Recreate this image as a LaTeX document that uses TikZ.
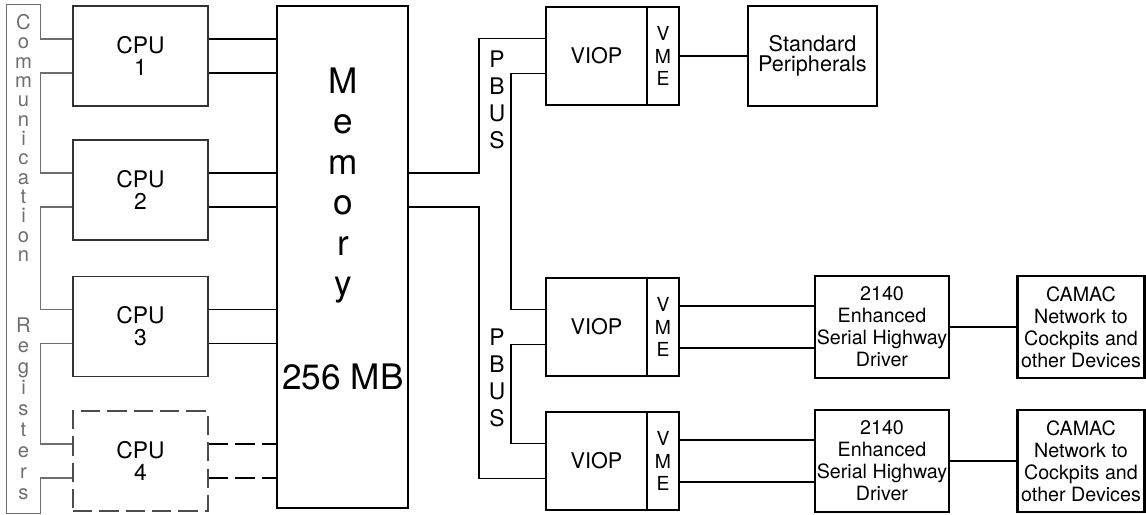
\documentclass[tikz,border=0pt]{standalone}
\usepackage{fontspec}
\setmainfont{TeX Gyre Heros}
\usepackage{tikz}
\usetikzlibrary{positioning}
\definecolor{RegGray}{HTML}{6E6E6E}
\definecolor{CpuGray}{HTML}{333333}

\begin{document}
\begin{tikzpicture}[x=0.02cm, y=-0.02cm,
        cpubox/.style={draw=CpuGray, line width=1.1pt, minimum width=2.7cm, minimum height=2cm, align=center, font=\fontsize{13}{12.5}\selectfont},
        unitbox/.style={draw, line width=1.3pt, align=center, font=\fontsize{12.3}{11.5}\selectfont},
        vmebox/.style={draw, line width=1.3pt, minimum width=0.64cm, minimum height=1.96cm, inner sep=0pt, align=center, font=\fontsize{11}{13}\selectfont},
        drvbox/.style={draw, line width=1.3pt, minimum width=2.68cm, minimum height=2.04cm, inner sep=1pt, align=center, font=\fontsize{11.2}{12.5}\selectfont},
        wire/.style={line width=1pt},
        regwire/.style={draw=RegGray, line width=0.7pt},
        sparse/.style={dash pattern=on 11pt off 4pt},
        stack/.style={align=center, inner sep=0pt}]
        \useasboundingbox (0,0) rectangle (1146,514);

        % CPUs and memory
        \node (CPU1) [cpubox] at (140.5,56) {CPU\\1};
        \node (CPU2) [cpubox] at (140.5,190) {CPU\\2};
        \node (CPU3) [cpubox] at (140.5,326.5) {CPU\\3};
        \node (CPU4) [cpubox, sparse, draw=black!70] at (140.5,461) {CPU\\4};
        \node (Memory) [draw, line width=1.5pt, minimum width=2.62cm, minimum height=10.04cm] at (342.5,257) {};
        \node (MemText) [stack, font=\fontsize{20}{23}\selectfont] at (343,229) {M\\e\\m\\o\\r\\y\\[30.5pt]256 MB};

        % communication registers
        \node (Regs) [minimum width=0.66cm, minimum height=10.16cm, inner sep=0pt] at (23.5,259) {};
        \node (RegTop) [stack, text=RegGray, font=\fontsize{11.5}{11}\selectfont] at (23.5,138) {C\\o\\m\\m\\u\\n\\i\\c\\a\\t\\i\\o\\n};
        \node (RegBot) [stack, text=RegGray, font=\fontsize{11.5}{11.9}\selectfont] at (23.5,408.5) {R\\e\\g\\i\\s\\t\\e\\r\\s};

        % VIOPs and devices
        \node (VIOP1) [unitbox, minimum width=2.02cm, minimum height=1.96cm] at (596.5,56) {VIOP};
        \node (VME1) [vmebox, right of=VIOP1, node distance=1.33cm] {V\\M\\E};
        \node (VIOP2) [unitbox, minimum width=2.02cm, minimum height=1.96cm] at (596.5,327) {VIOP};
        \node (VME2) [vmebox, right of=VIOP2, node distance=1.33cm] {V\\M\\E};
        \node (VIOP3) [unitbox, minimum width=2.02cm, minimum height=1.96cm] at (596.5,461) {VIOP};
        \node (VME3) [vmebox, right of=VIOP3, node distance=1.33cm] {V\\M\\E};
        \node (Std) [unitbox, minimum width=2.58cm, minimum height=2cm, right of=VME1, node distance=2.99cm] {Standard\\Peripherals};
        \node (Driver1) [drvbox] at (882,327) {2140\\Enhanced\\Serial Highway\\Driver};
        \node (CAMAC1) [drvbox, minimum width=2.54cm, right of=Driver1, node distance=3.98cm] {CAMAC\\Network to\\Cockpits and\\other Devices};
        \node (Driver2) [drvbox] at (882,461) {2140\\Enhanced\\Serial Highway\\Driver};
        \node (CAMAC2) [drvbox, minimum width=2.54cm, right of=Driver2, node distance=3.98cm] {CAMAC\\Network to\\Cockpits and\\other Devices};
        \node (PBus1) [stack, font=\fontsize{13}{15.4}\selectfont] at (497,100) {P\\B\\U\\S};
        \node (PBus2) [stack, font=\fontsize{13}{15.4}\selectfont] at (497,377.5) {P\\B\\U\\S};

        % ports
        \foreach \n in {1,...,4} {
            \coordinate (CPU\n-hi) at ([yshift=0.34cm]CPU\n.east);
            \coordinate (CPU\n-lo) at ([yshift=-0.34cm]CPU\n.east);
        }
        \foreach \n in {1,2,3} {
            \coordinate (VIOP\n-hi) at ([yshift=0.35cm]VIOP\n.west);
            \coordinate (VIOP\n-lo) at ([yshift=-0.35cm]VIOP\n.west);
            \coordinate (VME\n-hi) at ([yshift=0.42cm]VME\n.east);
            \coordinate (VME\n-lo) at ([yshift=-0.42cm]VME\n.east);
        }
        \coordinate (Mem-hi) at ([yshift=1.68cm]Memory.east);
        \coordinate (Mem-lo) at ([yshift=1cm]Memory.east);

        % CPU to memory
        \foreach \n in {1,2,3}
            \draw [wire] (CPU\n-hi) -- (CPU\n-hi -| Memory.west) (CPU\n-lo) -- (CPU\n-lo -| Memory.west);
        \draw [wire, sparse] (CPU4-hi) -- (CPU4-hi -| Memory.west) (CPU4-lo) -- (CPU4-lo -| Memory.west);

        % register lines
        \draw [regwire] (CPU1-hi -| CPU1.west) -| (Regs.north east) -- (Regs.north west) -- (Regs.south west) -- (Regs.south east) |- (CPU4-lo -| CPU4.west);
        \foreach \a/\b in {1/2,2/3,3/4}
            \draw [regwire] (CPU\a-lo -| CPU\a.west) -- (CPU\a-lo -| Regs.east) |- (CPU\b-hi -| CPU\b.west);

        % PBUS
        \draw [wire] (Mem-hi) -- ++(70,0) |- (VIOP1-hi);
        \draw [wire] (Mem-lo) -- ++(70,0) |- (VIOP3-lo);
        \foreach \a/\b in {1/2,2/3}
            \draw [wire] (VIOP\a-lo) -- ++(-34,0) |- (VIOP\b-hi);

        % VME side
        \draw [wire] (VME1) -- (Std);
        \draw [wire] (VME2-hi) -- (VME2-hi -| Driver1.west) (VME2-lo) -- (VME2-lo -| Driver1.west);
        \draw [wire] (VME3-hi) -- (VME3-hi -| Driver2.west) (VME3-lo) -- (VME3-lo -| Driver2.west);
        \draw [wire] (Driver1) -- (CAMAC1);
        \draw [wire] (Driver2) -- (CAMAC2);
    \end{tikzpicture}
\end{document}
